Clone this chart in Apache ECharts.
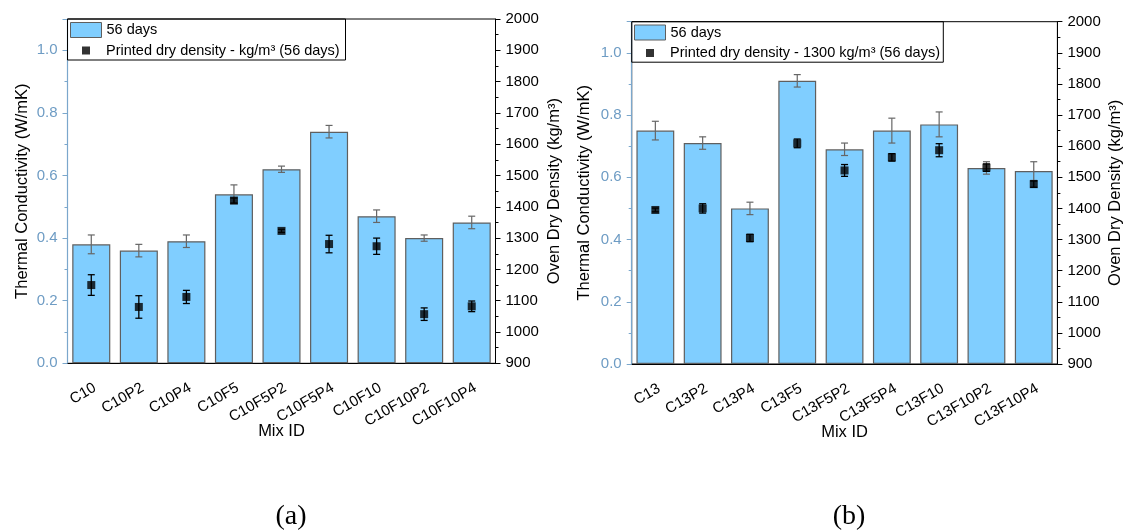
<!DOCTYPE html>
<html>
<head>
<meta charset="utf-8">
<title>Thermal conductivity and oven dry density</title>
<script src="https://cdn.jsdelivr.net/npm/echarts@6/dist/echarts.min.js"></script>
<style>
  html, body { margin: 0; padding: 0; background: #ffffff; }
  #chart { width: 1128px; height: 531px; }
</style>
</head>
<body>
<div id="chart"></div>
<script>
// Panel (a): C10 mixes
const categoriesA = ['C10', 'C10P2', 'C10P4', 'C10F5', 'C10F5P2', 'C10F5P4', 'C10F10', 'C10F10P2', 'C10F10P4'];
const conductivityA = [0.38, 0.36, 0.39, 0.54, 0.62, 0.74, 0.47, 0.40, 0.45];
const conductivityErrA = [0.03, 0.02, 0.02, 0.03, 0.01, 0.02, 0.02, 0.01, 0.02];
const densityA = [1150, 1080, 1112, 1420, 1323, 1281, 1274, 1057, 1082];
const densityErrA = [33, 36, 21, 8, 5, 28, 26, 20, 17];

// Panel (b): C13 mixes
const categoriesB = ['C13', 'C13P2', 'C13P4', 'C13F5', 'C13F5P2', 'C13F5P4', 'C13F10', 'C13F10P2', 'C13F10P4'];
const conductivityB = [0.75, 0.71, 0.50, 0.91, 0.69, 0.75, 0.77, 0.63, 0.62];
const conductivityErrB = [0.03, 0.02, 0.02, 0.02, 0.02, 0.04, 0.04, 0.02, 0.03];
const densityB = [1395, 1400, 1305, 1609, 1522, 1564, 1587, 1531, 1478];
const densityErrB = [6, 15, 12, 14, 19, 12, 21, 12, 10];

// Axis ranges and tick steps
const conductivityRange = [0, 1.1, 0.2];
const densityRange = [900, 2000, 100];

const barName = '56 days';
const densityNameA = 'Printed dry density - kg/m³ (56 days)';
const densityNameB = 'Printed dry density - 1300 kg/m³ (56 days)';
const captions = ['(a)', '(b)'];

const FONT = 'Liberation Sans, Arial, Helvetica, sans-serif';
const BAR_FILL = '#80CEFF';
const BAR_EDGE = '#5f5f5f';
const ERR_GRAY = '#666666';
const LEFT_AXIS = '#7ba7cc';
const LEFT_LABEL = '#6e9cc4';
const TITLE_SIZE = 16.5;
const TICK_SIZE = 15;
const LEGEND_SIZE = 14.5;

const chart = echarts.init(document.getElementById('chart'), null, { renderer: 'canvas' });

function errorBarRenderer(color, capHalf, lineWidth) {
  return function (params, api) {
    const idx = api.value(0);
    const v = api.value(1);
    const e = api.value(2);
    const hi = api.coord([idx, v + e]);
    const lo = api.coord([idx, v - e]);
    const style = { stroke: color, lineWidth: lineWidth };
    return {
      type: 'group',
      children: [
        { type: 'line', shape: { x1: hi[0], y1: hi[1], x2: lo[0], y2: lo[1] }, style: style },
        { type: 'line', shape: { x1: hi[0] - capHalf, y1: hi[1], x2: hi[0] + capHalf, y2: hi[1] }, style: style },
        { type: 'line', shape: { x1: lo[0] - capHalf, y1: lo[1], x2: lo[0] + capHalf, y2: lo[1] }, style: style }
      ]
    };
  };
}

function withErr(values, errs) {
  return values.map((v, i) => [i, v, errs[i]]);
}

function mainXAxis(gridIndex, cats) {
  return {
    type: 'category', gridIndex: gridIndex, data: cats, position: 'bottom',
    name: 'Mix ID', nameLocation: 'middle', nameGap: 60, nameMoveOverlap: false,
    nameTextStyle: { color: '#000', fontSize: TITLE_SIZE, fontFamily: FONT },
    axisLine: { lineStyle: { color: '#000', width: 1 } },
    axisTick: { alignWithLabel: true, length: 5, lineStyle: { color: '#000' } },
    axisLabel: { rotate: 30, margin: 17, verticalAlign: 'top', color: '#000', fontSize: 15, fontFamily: FONT },
    splitLine: { show: false }
  };
}

function minorXAxis(gridIndex, cats) {
  return {
    type: 'category', gridIndex: gridIndex, data: cats, position: 'bottom',
    axisLine: { show: false },
    axisTick: { alignWithLabel: false, length: 3, lineStyle: { color: '#000' } },
    axisLabel: { show: false },
    splitLine: { show: false }
  };
}

function conductivityAxis(gridIndex, gap) {
  return {
    type: 'value', gridIndex: gridIndex, position: 'left',
    min: conductivityRange[0], max: conductivityRange[1], interval: conductivityRange[2],
    name: 'Thermal Conductivity (W/mK)', nameLocation: 'middle', nameGap: gap, nameRotate: 90,
    nameTextStyle: { color: '#000', fontSize: TITLE_SIZE, fontFamily: FONT },
    axisLine: { show: true, lineStyle: { color: LEFT_AXIS, width: 1.2 } },
    axisTick: { show: true, length: 5, lineStyle: { color: LEFT_AXIS } },
    minorTick: { show: true, splitNumber: 2, length: 3, lineStyle: { color: LEFT_AXIS } },
    axisLabel: {
      color: LEFT_LABEL, fontSize: TICK_SIZE, fontFamily: FONT, margin: 10, showMaxLabel: false,
      formatter: v => v.toFixed(1)
    },
    splitLine: { show: false }
  };
}

function densityAxis(gridIndex, gap) {
  return {
    type: 'value', gridIndex: gridIndex, position: 'right',
    min: densityRange[0], max: densityRange[1], interval: densityRange[2],
    name: 'Oven Dry Density (kg/m³)', nameLocation: 'middle', nameGap: gap, nameRotate: 90,
    nameTextStyle: { color: '#000', fontSize: TITLE_SIZE, fontFamily: FONT },
    axisLine: { show: true, lineStyle: { color: '#000', width: 1 } },
    axisTick: { show: true, length: 5, lineStyle: { color: '#000' } },
    minorTick: { show: true, splitNumber: 2, length: 3, lineStyle: { color: '#000' } },
    axisLabel: { color: '#000', fontSize: TICK_SIZE, fontFamily: FONT, margin: 10, formatter: v => String(v) },
    splitLine: { show: false }
  };
}

function panelSeries(xIdx, yTc, yDen, tc, tcErr, den, denErr, denName) {
  return [
    {
      type: 'bar', name: barName, xAxisIndex: xIdx, yAxisIndex: yTc, data: tc,
      barCategoryGap: '20%', z: 2,
      itemStyle: { color: BAR_FILL, borderColor: BAR_EDGE, borderWidth: 1.2 }
    },
    {
      type: 'custom', name: 'tc-error', xAxisIndex: xIdx, yAxisIndex: yTc, z: 3,
      data: withErr(tc, tcErr), encode: { x: 0, y: 1 },
      renderItem: errorBarRenderer(ERR_GRAY, 3.5, 1.2)
    },
    {
      type: 'custom', name: 'density-error', xAxisIndex: xIdx, yAxisIndex: yDen, z: 4,
      data: withErr(den, denErr), encode: { x: 0, y: 1 },
      renderItem: errorBarRenderer('#000', 3.5, 1.3)
    },
    {
      type: 'scatter', name: denName, xAxisIndex: xIdx, yAxisIndex: yDen, z: 5,
      data: den.map((v, i) => [i, v]),
      symbol: 'rect', symbolSize: 8,
      itemStyle: { color: '#000' }
    }
  ];
}

function barLegend(left, top) {
  return {
    data: [{ name: barName, icon: 'rect' }], left: left, top: top, orient: 'vertical', padding: 0,
    itemWidth: 31, itemHeight: 15, selectedMode: false,
    itemStyle: { borderColor: BAR_EDGE, borderWidth: 1 },
    textStyle: { color: '#000', fontSize: LEGEND_SIZE, fontFamily: FONT, lineHeight: 17 }
  };
}

function pointLegend(name, left, top) {
  return {
    data: [{ name: name, icon: 'rect' }], left: left, top: top, orient: 'vertical', padding: 0,
    itemWidth: 8, itemHeight: 8, selectedMode: false,
    textStyle: { color: '#000', fontSize: LEGEND_SIZE, fontFamily: FONT, lineHeight: 17, padding: [0, 0, 0, 11] }
  };
}

const option = {
  animation: false,
  backgroundColor: '#ffffff',
  grid: [
    { left: 67.5, top: 19, width: 428, height: 344.3, show: true, borderColor: '#000', borderWidth: 1, backgroundColor: 'transparent' },
    { left: 631.7, top: 21.7, width: 425.7, height: 342.3, show: true, borderColor: '#000', borderWidth: 1, backgroundColor: 'transparent' }
  ],
  legend: [
    barLegend(70, 21.5),
    pointLegend(densityNameA, 82, 42),
    barLegend(634, 24),
    pointLegend(densityNameB, 646, 44.5)
  ],
  xAxis: [
    mainXAxis(0, categoriesA), minorXAxis(0, categoriesA),
    mainXAxis(1, categoriesB), minorXAxis(1, categoriesB)
  ],
  yAxis: [
    conductivityAxis(0, 37), densityAxis(0, 50),
    conductivityAxis(1, 39), densityAxis(1, 50)
  ],
  series: [].concat(
    panelSeries(0, 0, 1, conductivityA, conductivityErrA, densityA, densityErrA, densityNameA),
    panelSeries(2, 2, 3, conductivityB, conductivityErrB, densityB, densityErrB, densityNameB)
  ),
  graphic: [
    // legend frames
    { type: 'rect', z: 100, shape: { x: 67.5, y: 19, width: 278, height: 41 }, style: { fill: 'none', stroke: '#000', lineWidth: 1 } },
    { type: 'rect', z: 100, shape: { x: 631.7, y: 21.7, width: 311.6, height: 40.5 }, style: { fill: 'none', stroke: '#000', lineWidth: 1 } },
    // panel captions
    { type: 'text', x: 291, y: 517, style: { text: captions[0], font: '28px "Liberation Serif", "Times New Roman", serif', fill: '#000', align: 'center', verticalAlign: 'middle' } },
    { type: 'text', x: 849, y: 517, style: { text: captions[1], font: '28px "Liberation Serif", "Times New Roman", serif', fill: '#000', align: 'center', verticalAlign: 'middle' } }
  ]
};

chart.setOption(option);
</script>
</body>
</html>
